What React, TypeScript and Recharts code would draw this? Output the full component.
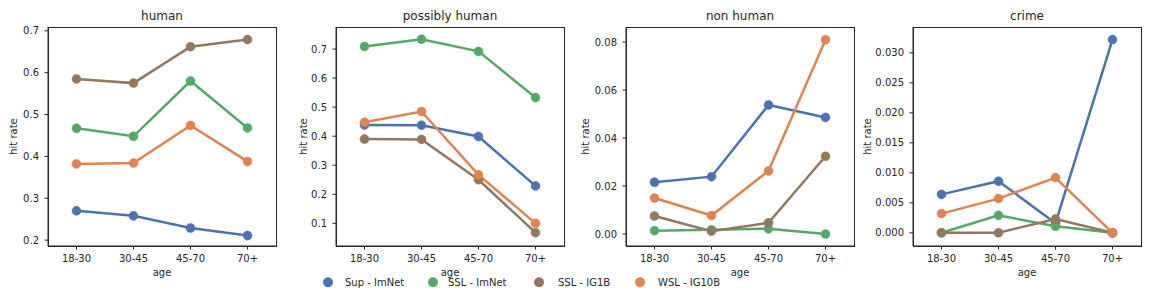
import { LineChart, Line, XAxis, YAxis } from "recharts";

const ageGroups = ["18-30", "30-45", "45-70", "70+"];
const seriesNames = ["Sup - ImNet", "SSL - ImNet", "SSL - IG1B", "WSL - IG10B"];
const seriesColors = ["#4c72b0", "#55a868", "#937860", "#dd8452"];

// rows follow seriesNames order, columns follow ageGroups
const humanRates = [
  [0.27, 0.258, 0.229, 0.211],
  [0.467, 0.448, 0.58, 0.468],
  [0.585, 0.575, 0.662, 0.679],
  [0.382, 0.384, 0.474, 0.388],
];
const possiblyHumanRates = [
  [0.439, 0.438, 0.399, 0.229],
  [0.709, 0.734, 0.692, 0.533],
  [0.39, 0.389, 0.25, 0.068],
  [0.448, 0.485, 0.267, 0.1],
];
const nonHumanRates = [
  [0.0216, 0.0239, 0.0538, 0.0486],
  [0.0014, 0.0018, 0.0022, 0.0],
  [0.0075, 0.0012, 0.0047, 0.0324],
  [0.015, 0.0077, 0.0263, 0.081],
];
const crimeRates = [
  [0.0064, 0.0086, 0.0016, 0.0322],
  [0.0, 0.0029, 0.0011, 0.0],
  [0.0, 0.0, 0.0023, 0.0],
  [0.0032, 0.0057, 0.0092, 0.0],
];

const humanTicks = [0.2, 0.3, 0.4, 0.5, 0.6, 0.7];
const possiblyHumanTicks = [0.1, 0.2, 0.3, 0.4, 0.5, 0.6, 0.7];
const nonHumanTicks = [0, 0.02, 0.04, 0.06, 0.08];
const crimeTicks = [0, 0.005, 0.01, 0.015, 0.02, 0.025, 0.03];

const INK = "#262626";
const FONT = "DejaVu Sans, sans-serif";
const AXIS_W = 60;
const PLOT_W = 228;
const PLOT_TOP = 27;
const PLOT_BOTTOM = 246;

const panels = [
  { title: "human", rates: humanRates, ticks: humanTicks, domain: [0.186, 0.709], digits: 1, left: 48, labelGap: 35 },
  { title: "possibly human", rates: possiblyHumanRates, ticks: possiblyHumanTicks, domain: [0.022, 0.776], digits: 1, left: 336, labelGap: 33 },
  { title: "non human", rates: nonHumanRates, ticks: nonHumanTicks, domain: [-0.005, 0.0863], digits: 2, left: 626, labelGap: 41 },
  { title: "crime", rates: crimeRates, ticks: crimeTicks, domain: [-0.0022, 0.0343], digits: 3, left: 913, labelGap: 46 },
];

const legendDotX = [328, 433, 539, 640];
const legendTextX = [345, 448, 558, 658];

const Panel = ({ rates, ticks, domain, digits, left }: any) => {
  const data = ageGroups.map((age, i) => {
    const row: any = { age };
    seriesNames.forEach((_, j) => {
      row["s" + j] = rates[j][i];
    });
    return row;
  });
  const pad = PLOT_W / ageGroups.length / 2;
  return (
    <div style={{ position: "absolute", left: left - AXIS_W, top: 0 }}>
      <LineChart
        width={AXIS_W + PLOT_W + 6}
        height={288}
        data={data}
        margin={{ top: PLOT_TOP, right: 6, bottom: 0, left: 0 }}
      >
        <XAxis
          dataKey="age"
          height={288 - PLOT_BOTTOM}
          padding={{ left: pad, right: pad }}
          interval={0}
          tickSize={3.5}
          tickMargin={5}
          stroke={INK}
          tick={{ fill: INK, fontSize: 10, fontFamily: FONT }}
        />
        <YAxis
          width={AXIS_W}
          type="number"
          domain={domain}
          ticks={ticks}
          allowDataOverflow
          interval={0}
          tickSize={3.5}
          tickMargin={5.5}
          stroke={INK}
          tick={{ fill: INK, fontSize: 10, fontFamily: FONT }}
          tickFormatter={(v: number) => v.toFixed(digits)}
        />
        {seriesNames.map((name, j) => (
          <Line
            key={name}
            name={name}
            dataKey={"s" + j}
            stroke={seriesColors[j]}
            strokeWidth={2.5}
            dot={{ r: 4.5, fill: seriesColors[j], stroke: seriesColors[j], strokeWidth: 0.5 }}
            activeDot={false}
            isAnimationActive={false}
          />
        ))}
      </LineChart>
    </div>
  );
};

export default function App() {
  const midY = (PLOT_TOP + PLOT_BOTTOM) / 2;
  return (
    <div
      style={{
        position: "absolute",
        left: 0,
        top: 0,
        width: 1152,
        height: 288,
        background: "#fff",
        overflow: "hidden",
      }}
    >
      {panels.map((p) => (
        <Panel key={p.title} {...p} />
      ))}
      <svg
        width={1152}
        height={288}
        style={{ position: "absolute", left: 0, top: 0, pointerEvents: "none" }}
        fontFamily={FONT}
        fill={INK}
      >
        {panels.map((p) => (
          <g key={p.title}>
            <rect
              x={p.left + 0.5}
              y={PLOT_TOP + 0.5}
              width={PLOT_W}
              height={PLOT_BOTTOM - PLOT_TOP}
              fill="none"
              stroke={INK}
              strokeWidth={1}
            />
            <text x={p.left + PLOT_W / 2} y={20} fontSize={12} textAnchor="middle">
              {p.title}
            </text>
            <text x={p.left + PLOT_W / 2} y={275.5} fontSize={10} textAnchor="middle">
              age
            </text>
            <text
              x={0}
              y={0}
              fontSize={10}
              textAnchor="middle"
              transform={`translate(${p.left - p.labelGap + 3.5}, ${midY}) rotate(-90)`}
            >
              hit rate
            </text>
          </g>
        ))}
        {seriesNames.map((name, j) => (
          <g key={name}>
            <circle cx={legendDotX[j]} cy={282.3} r={5} fill={seriesColors[j]} />
            <text x={legendTextX[j]} y={285.8} fontSize={10}>
              {name}
            </text>
          </g>
        ))}
      </svg>
    </div>
  );
}
